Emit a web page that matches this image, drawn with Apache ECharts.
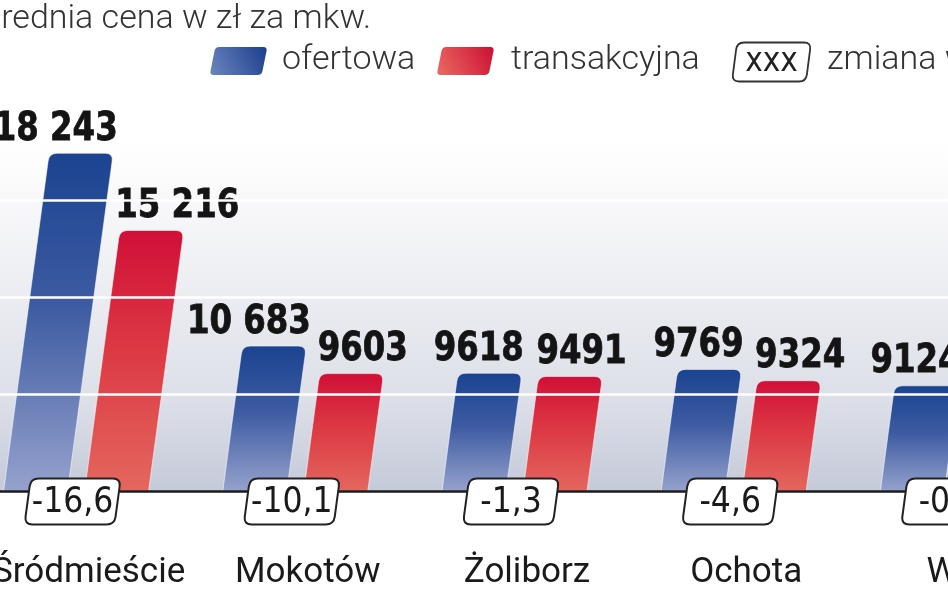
<!DOCTYPE html>
<html>
<head>
<meta charset="utf-8">
<script src="https://cdn.jsdelivr.net/npm/echarts@6/dist/echarts.min.js"></script>
<style>
html,body{margin:0;padding:0;background:#fff;overflow:hidden}
#c{width:948px;height:593px}
</style>
</head>
<body>
<div id="c"></div>
<script>
// ---- data ----
const categories = ['Śródmieście', 'Mokotów', 'Żoliborz', 'Ochota', 'Wola'];
const ofertowa = [18243, 10683, 9618, 9769, 9124];
const transakcyjna = [15216, 9603, 9491, 9324, null];
const zmiana = [-16.6, -10.1, -1.3, -4.6, -0.5];
const seriesNames = ['ofertowa', 'transakcyjna'];
const titleText = 'Średnia cena w zł za mkw.';
const changeLegendText = 'zmiana w %';

// ---- layout / style constants ----
const Y_MIN = 5000, Y_MAX = 19000;
const BAR_W = 64, SLANT = 0.135, BAR_R = 8;
const LABEL_FONT = 'bold 36px "DejaVu Sans Condensed", "Liberation Sans Narrow", sans-serif';
const BOX_FONT = '35px "Liberation Sans Narrow", "DejaVu Sans Condensed", sans-serif';
const LEG_BOX_FONT = '33px "Liberation Sans Narrow", "DejaVu Sans Condensed", sans-serif';
const LIGHT_FONT = '300 34px Roboto, "Noto Sans", sans-serif';

const measureCtx = document.createElement('canvas').getContext('2d');
function textWidth(s, font) { measureCtx.font = font; return measureCtx.measureText(s).width; }

function fmt(v) {
  const s = String(v);
  return v >= 10000 ? s.replace(/\B(?=(\d{3})+(?!\d))/g, ' ') : s;
}

// rounded polygon shape
const RoundPoly = echarts.graphic.extendShape({
  type: 'roundPoly',
  shape: { pts: [], r: [] },
  buildPath: function (ctx, shape) {
    const pts = shape.pts, n = pts.length;
    if (!n) return;
    for (let i = 0; i < n; i++) {
      const P = pts[i], A = pts[(i - 1 + n) % n], B = pts[(i + 1) % n];
      const r = shape.r[i] || 0;
      const la = Math.hypot(A[0] - P[0], A[1] - P[1]) || 1, lb = Math.hypot(B[0] - P[0], B[1] - P[1]) || 1;
      const p1x = P[0] + (A[0] - P[0]) / la * r, p1y = P[1] + (A[1] - P[1]) / la * r;
      const p2x = P[0] + (B[0] - P[0]) / lb * r, p2y = P[1] + (B[1] - P[1]) / lb * r;
      if (i === 0) ctx.moveTo(p1x, p1y); else ctx.lineTo(p1x, p1y);
      ctx.quadraticCurveTo(P[0], P[1], p2x, p2y);
    }
    ctx.closePath();
  }
});
echarts.graphic.registerShape('roundPoly', RoundPoly);

function paraPts(cx, cy, w, h, s) {
  const dx = s * h / 2;
  return [
    [cx - w / 2 + dx, cy - h / 2], [cx + w / 2 + dx, cy - h / 2],
    [cx + w / 2 - dx, cy + h / 2], [cx - w / 2 - dx, cy + h / 2]
  ];
}

const blueGrad = () => new echarts.graphic.LinearGradient(0, 0, 0, 1, [
  { offset: 0, color: '#1b4390' }, { offset: 0.45, color: '#3d5ba2' }, { offset: 1, color: '#96a2cd' }
]);
const redGrad = () => new echarts.graphic.LinearGradient(0, 0, 0, 1, [
  { offset: 0, color: '#d10f38' }, { offset: 0.45, color: '#dc3843' }, { offset: 1, color: '#e4675f' }
]);

function makeBarRender(offsetBL, gradFn, sign) {
  return function (params, api) {
    const idx = api.value(0), v = api.value(1);
    if (v == null || isNaN(v)) return null;
    const base = api.coord([idx, Y_MIN]);
    const top = api.coord([idx, v]);
    const yb = base[1], yt = top[1], h = yb - yt;
    const xb = base[0] + offsetBL;
    const xt = xb + SLANT * h;
    const pts = [[xb, yb], [xb + BAR_W, yb], [xt + BAR_W, yt], [xt, yt]];
    const txt = fmt(v);
    const tw = textWidth(txt, LABEL_FONT);
    const shift = sign * Math.max(0, tw - BAR_W) / 2 * 0.85;
    return {
      type: 'group',
      children: [
        { type: 'roundPoly', shape: { pts: pts, r: [0, 0, BAR_R, BAR_R] },
          style: { fill: gradFn(), stroke: 'rgba(255,255,255,0.55)', lineWidth: 1 } },
        { type: 'text', x: xt + BAR_W / 2 + shift, y: yt - 4, scaleY: 1.1,
          style: { text: txt, font: LABEL_FONT, fill: '#141414', stroke: '#141414', lineWidth: 0.7,
                   align: 'center', verticalAlign: 'bottom' } }
      ]
    };
  };
}

function boxRender(params, api) {
  const idx = api.value(0), v = api.value(1);
  const base = api.coord([idx, Y_MIN]);
  const cx = base[0] - 4, cy = base[1] + 10.5;
  return {
    type: 'group',
    children: [
      { type: 'roundPoly', shape: { pts: paraPts(cx, cy, 90, 46, SLANT), r: [8, 8, 8, 8] },
        style: { fill: '#ffffff', stroke: '#222', lineWidth: 2 } },
      { type: 'text', x: cx, y: cy + 1,
        style: { text: String(v).replace('.', ','), font: BOX_FONT, fill: '#1a1a1a', align: 'center', verticalAlign: 'middle' } }
    ]
  };
}

const chart = echarts.init(document.getElementById('c'), null, { renderer: 'canvas' });

const legendSwatch = (x, grad) => ({
  type: 'roundPoly', shape: { pts: paraPts(x + 28.5, 61, 52, 28, 0.2), r: [4, 4, 4, 4] },
  style: { fill: new echarts.graphic.LinearGradient(1, 0, 0, 1, grad) }
});

chart.setOption({
  animation: false,
  backgroundColor: '#ffffff',
  grid: {
    left: -33, right: -115, top: 134, bottom: 102,
    outerBoundsMode: 'none', containLabel: false,
    show: true, borderWidth: 0,
    backgroundColor: new echarts.graphic.LinearGradient(0, 0, 0, 1, [
      { offset: 0, color: '#ffffff' }, { offset: 0.08, color: '#fdfdfd' },
      { offset: 0.46, color: '#ebecf1' }, { offset: 0.75, color: '#dcdfe8' },
      { offset: 1, color: '#c5cad9' }
    ])
  },
  xAxis: {
    type: 'category', data: categories, z: 3,
    axisTick: { show: false },
    axisLine: { lineStyle: { color: '#1a1a1a', width: 2.5 } },
    axisLabel: { interval: 0, margin: 65, fontFamily: 'Roboto', fontSize: 35, color: '#1a1a1a', padding: [0, 0, 0, 24] },
    splitLine: { show: false }
  },
  yAxis: [
    { type: 'value', min: Y_MIN, max: Y_MAX, show: false, splitLine: { show: false } },
    { type: 'value', min: 0.03, max: 3.7104, interval: 1, z: 3,
      axisLine: { show: false }, axisTick: { show: false }, axisLabel: { show: false },
      splitLine: { show: true, showMinLine: false, showMaxLine: false, lineStyle: { color: '#ffffff', width: 2.5 } } }
  ],
  series: [
    { name: seriesNames[0], type: 'custom', coordinateSystem: 'cartesian2d', z: 2, clip: false,
      encode: { x: 0, y: 1 }, data: ofertowa.map((v, i) => [i, v]),
      renderItem: makeBarRender(-73, blueGrad, -1) },
    { name: seriesNames[1], type: 'custom', coordinateSystem: 'cartesian2d', z: 2, clip: false,
      encode: { x: 0, y: 1 }, data: transakcyjna.map((v, i) => [i, v]),
      renderItem: makeBarRender(8, redGrad, 1) },
    { name: 'zmiana', type: 'custom', coordinateSystem: 'cartesian2d', z: 6, clip: false,
      encode: { x: 0, y: 1 }, data: zmiana.map((v, i) => [i, v]),
      renderItem: boxRender }
  ],
  graphic: [
    { type: 'text', x: -19, y: 19, style: { text: titleText, font: LIGHT_FONT, fill: '#333', verticalAlign: 'middle' } },
    legendSwatch(210, [{ offset: 0, color: '#1a3f8c' }, { offset: 1, color: '#6d85bf' }]),
    { type: 'text', x: 282, y: 60, style: { text: seriesNames[0], font: LIGHT_FONT, fill: '#333', verticalAlign: 'middle' } },
    legendSwatch(437, [{ offset: 0, color: '#cc0f33' }, { offset: 1, color: '#ea6a63' }]),
    { type: 'text', x: 511, y: 60, style: { text: seriesNames[1], font: LIGHT_FONT, fill: '#333', verticalAlign: 'middle' } },
    { type: 'roundPoly', shape: { pts: paraPts(771.5, 62, 74, 39, 0.13), r: [7, 7, 7, 7] }, style: { fill: '#fff', stroke: '#333', lineWidth: 1.8 } },
    { type: 'text', x: 771.5, y: 62, style: { text: 'xxx', font: LEG_BOX_FONT, fill: '#222', align: 'center', verticalAlign: 'middle' } },
    { type: 'text', x: 827, y: 60, style: { text: changeLegendText, font: LIGHT_FONT, fill: '#333', verticalAlign: 'middle' } }
  ]
});
</script>
</body>
</html>
